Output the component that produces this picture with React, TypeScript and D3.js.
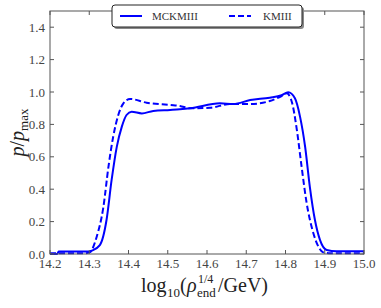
import React, { useRef, useEffect } from 'react';
import * as d3 from 'd3';

// MCKMIII (solid) — log10(rho_end^{1/4}/GeV) vs p/p_max
const mckX = [14.2, 14.218, 14.222, 14.3, 14.306, 14.327, 14.344, 14.357, 14.37, 14.383, 14.395, 14.408, 14.434, 14.463, 14.506, 14.531, 14.557, 14.633, 14.667, 14.71, 14.76, 14.79, 14.807, 14.824, 14.837, 14.85, 14.862, 14.875, 14.888, 14.905, 14.93, 15.0];
const mckY = [0.0, 0.0, 0.015, 0.015, 0.02, 0.055, 0.21, 0.457, 0.66, 0.786, 0.858, 0.878, 0.868, 0.883, 0.889, 0.893, 0.899, 0.93, 0.926, 0.95, 0.965, 0.98, 0.998, 0.961, 0.848, 0.662, 0.415, 0.21, 0.086, 0.025, 0.017, 0.017];

// KMIII (dashed)
const kmX = [14.2, 14.29, 14.302, 14.319, 14.336, 14.349, 14.361, 14.374, 14.387, 14.404, 14.446, 14.506, 14.531, 14.557, 14.608, 14.659, 14.71, 14.76, 14.79, 14.803, 14.816, 14.829, 14.841, 14.854, 14.871, 14.884, 14.896, 14.91, 15.0];
const kmY = [0.005, 0.005, 0.012, 0.107, 0.29, 0.54, 0.724, 0.858, 0.93, 0.957, 0.934, 0.92, 0.914, 0.899, 0.903, 0.926, 0.926, 0.944, 0.975, 0.992, 0.94, 0.765, 0.539, 0.313, 0.128, 0.045, 0.01, 0.005, 0.005];

const xTicks = [14.2, 14.3, 14.4, 14.5, 14.6, 14.7, 14.8, 14.9, 15.0];
const yTicks = [0.0, 0.2, 0.4, 0.6, 0.8, 1.0, 1.2, 1.4];
const seriesNames = ['MCKMIII', 'KMIII'];

export default function App() {
  const svgRef = useRef<SVGSVGElement>(null);
  const width = 381, height = 308;
  const margin = { top: 11, right: 17, bottom: 54, left: 50 };

  useEffect(() => {
    const svg = d3.select(svgRef.current);
    svg.selectAll('*').remove();
    const font = '"Liberation Serif", "DejaVu Serif", serif';

    const x = d3.scaleLinear().domain([14.2, 15.0]).range([margin.left, width - margin.right]);
    const y = d3.scaleLinear().domain([0, 1.5]).range([height - margin.bottom, margin.top]);

    const line = d3.line<[number, number]>()
      .x(d => x(d[0]))
      .y(d => y(d[1]))
      .curve(d3.curveMonotoneX);

    const mck: [number, number][] = mckX.map((v, i) => [v, mckY[i]]);
    const km: [number, number][] = kmX.map((v, i) => [v, kmY[i]]);

    const plot = svg.append('g');
    plot.append('path').datum(mck)
      .attr('fill', 'none').attr('stroke', '#0000ff').attr('stroke-width', 2)
      .attr('d', line);
    plot.append('path').datum(km)
      .attr('fill', 'none').attr('stroke', '#0000ff').attr('stroke-width', 2)
      .attr('stroke-dasharray', '6,3')
      .attr('d', line);

    const axisColor = '#555';
    const tickLen = 4;
    const x0 = margin.left, x1 = width - margin.right;
    const y0 = height - margin.bottom, y1 = margin.top;

    // frame
    svg.append('rect')
      .attr('x', x0).attr('y', y1).attr('width', x1 - x0).attr('height', y0 - y1)
      .attr('fill', 'none').attr('stroke', axisColor).attr('stroke-width', 1);

    // inward ticks on all sides
    const tk = svg.append('g').attr('stroke', axisColor).attr('stroke-width', 1);
    xTicks.forEach(t => {
      tk.append('line').attr('x1', x(t)).attr('x2', x(t)).attr('y1', y0).attr('y2', y0 - tickLen);
      tk.append('line').attr('x1', x(t)).attr('x2', x(t)).attr('y1', y1).attr('y2', y1 + tickLen);
    });
    yTicks.forEach(t => {
      tk.append('line').attr('y1', y(t)).attr('y2', y(t)).attr('x1', x0).attr('x2', x0 + tickLen);
      tk.append('line').attr('y1', y(t)).attr('y2', y(t)).attr('x1', x1).attr('x2', x1 - tickLen);
    });

    // tick labels
    svg.append('g').selectAll('text').data(xTicks).join('text')
      .attr('x', d => x(d)).attr('y', y0 + 14)
      .attr('text-anchor', 'middle')
      .attr('font-family', font).attr('font-size', 13).attr('fill', '#444')
      .text(d => d.toFixed(1));
    svg.append('g').selectAll('text').data(yTicks).join('text')
      .attr('x', x0 - 5).attr('y', d => y(d)).attr('dy', '0.35em')
      .attr('text-anchor', 'end')
      .attr('font-family', font).attr('font-size', 13).attr('fill', '#444')
      .text(d => d.toFixed(1));

    // y label
    const yl = svg.append('text')
      .attr('transform', `translate(24,${(y0 + y1) / 2}) rotate(-90)`)
      .attr('text-anchor', 'middle')
      .attr('font-family', font).attr('font-size', 20).attr('fill', '#222');
    yl.append('tspan').attr('font-style', 'italic').text('p');
    yl.append('tspan').text('/');
    yl.append('tspan').attr('font-style', 'italic').text('p');
    yl.append('tspan').attr('font-size', 13).attr('dy', 4).text('max');

    // x label: log10(rho_end^{1/4}/GeV)
    const xl = svg.append('g').attr('font-family', font).attr('fill', '#222');
    const base = 292;
    const parts = [
      { t: 'log', size: 20, dy: 0, italic: false, x: 141 },
      { t: '10', size: 13, dy: 5, italic: false, x: 167 },
      { t: '(', size: 20, dy: 0, italic: false, x: 180 },
      { t: 'ρ', size: 20, dy: 0, italic: true, x: 187 },
      { t: '1/4', size: 12, dy: -9, italic: false, x: 198 },
      { t: 'end', size: 13, dy: 5, italic: false, x: 197 },
      { t: '/GeV)', size: 20, dy: 0, italic: false, x: 218 },
    ];
    parts.forEach(p => {
      xl.append('text')
        .attr('x', p.x).attr('y', base + p.dy)
        .attr('font-size', p.size)
        .attr('font-style', p.italic ? 'italic' : 'normal')
        .text(p.t);
    });

    // legend
    const lg = svg.append('g');
    lg.append('rect')
      .attr('x', 114).attr('y', 7).attr('width', 190).attr('height', 22).attr('rx', 3)
      .attr('fill', '#888');
    lg.append('rect')
      .attr('x', 112).attr('y', 5).attr('width', 190).attr('height', 22).attr('rx', 3)
      .attr('fill', 'white').attr('stroke', '#222').attr('stroke-width', 1);
    const entries = [
      { name: seriesNames[0], dash: null, lx: 120, tx: 152 },
      { name: seriesNames[1], dash: '6,3', lx: 229, tx: 263 },
    ];
    entries.forEach(e => {
      lg.append('line')
        .attr('x1', e.lx).attr('x2', e.lx + 22).attr('y1', 16).attr('y2', 16)
        .attr('stroke', '#0000ff').attr('stroke-width', 2)
        .attr('stroke-dasharray', e.dash);
      lg.append('text')
        .attr('x', e.tx).attr('y', 16).attr('dy', '0.35em')
        .attr('font-family', font).attr('font-size', 11).attr('fill', '#333')
        .text(e.name);
    });
  }, []);

  return <svg ref={svgRef} width={width} height={height} style={{ position: 'absolute', left: 0, top: 0 }} />;
}
